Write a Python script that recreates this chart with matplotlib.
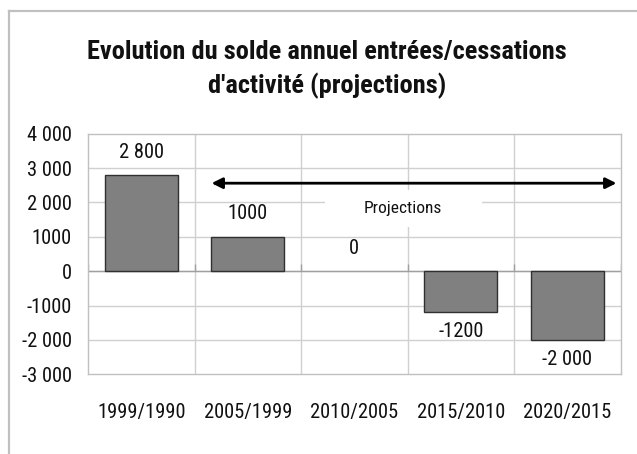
import matplotlib
matplotlib.use("Agg")
import matplotlib.pyplot as plt
from matplotlib.patches import Rectangle
from matplotlib.lines import Line2D

FONT = ['Roboto Condensed', 'PT Sans Narrow', 'Liberation Sans', 'DejaVu Sans']
plt.rcParams['font.family'] = FONT

# ---- data ----
categories = ["1999/1990", "2005/1999", "2010/2005", "2015/2010", "2020/2015"]
values = [2800, 1000, 0, -1200, -2000]
value_labels = ["2 800", "1000", "0", "-1200", "-2 000"]
y_ticks = [-3000, -2000, -1000, 0, 1000, 2000, 3000, 4000]
y_tick_labels = ["-3 000", "-2 000", "-1000", "0", "1000", "2 000", "3 000", "4 000"]
title_lines = ["Evolution du solde annuel entrées/cessations", "d'activité (projections)"]
projection_text = "Projections"

# ---- figure ----
W, H = 637, 454
fig = plt.figure(figsize=(W / 100, H / 100), dpi=100)
fig.patch.set_facecolor("white")
renderer = fig.canvas.get_renderer()


def fit_size(s, target_px, weight="normal"):
    t = fig.text(0, 0, s, fontsize=20, fontweight=weight)
    w = t.get_window_extent(renderer).width
    t.remove()
    return 20 * target_px / w


fs_tick = fit_size("1999/1990", 88)
fs_title = fit_size(title_lines[0], 480, "bold")
fs_proj = fit_size(projection_text, 78)


def fx(px):
    return px / W


def fy(py):
    return 1 - py / H


# outer frame (cropped on right and bottom)
fig.add_artist(Line2D([fx(8.5), fx(8.5)], [fy(11), fy(H + 5)], color="#c0c0c0", linewidth=1.6))
fig.add_artist(Line2D([fx(8.5), fx(W + 5)], [fy(11), fy(11)], color="#c0c0c0", linewidth=1.6))

left, right, top, bottom = 88, 620.7, 133.7, 374.3
ax = fig.add_axes([fx(left), fy(bottom), (right - left) / W, (bottom - top) / H])

x = list(range(len(categories)))
ax.set_xlim(-0.5, len(categories) - 0.5)
ax.set_ylim(-3000, 4000)

# grid
for yt in y_ticks[1:-1]:
    ax.axhline(yt, color="#d0d0d0", linewidth=1.0, zorder=0)
for b in [i + 0.5 for i in x[:-1]]:
    ax.axvline(b, color="#d0d0d0", linewidth=1.0, zorder=0)
for s in ax.spines.values():
    s.set_color("#c0c0c0")
    s.set_linewidth(1.0)

# zero axis with small ticks
ax.axhline(0, color="#a0a0a0", linewidth=1.0, zorder=1)
ax.vlines([i - 0.5 for i in x] + [len(x) - 0.5], 0, 210, color="#a0a0a0", linewidth=1.0, zorder=1)

# bars (a zero bar shows no outline)
edges = ["#303030" if v != 0 else "none" for v in values]
ax.bar(x, values, width=0.685, color="#808080", edgecolor=edges, linewidth=1.0, zorder=3)

# value labels
for xi, v, lab in zip(x, values, value_labels):
    off = 16.5 if v >= 0 else -13.8
    ax.annotate(lab, (xi, v), xytext=(0, off), textcoords="offset points",
                ha="center", va="center", fontsize=fs_tick, color="#111111", zorder=5)

# projections arrow
ax.annotate("", xy=(4.46, 2560), xytext=(0.66, 2560),
            arrowprops=dict(arrowstyle="<|-|>", color="black", linewidth=2.0,
                            mutation_scale=16, shrinkA=0, shrinkB=0), zorder=6)
ax.add_patch(Rectangle((1.725, 1290), 1.475, 1070, facecolor="white", edgecolor="none", zorder=2))
ax.text(2.455, 1810, projection_text, ha="center", va="center", fontsize=fs_proj,
        color="#111111", zorder=4)

# ticks
ax.set_xticks(x)
ax.set_xticklabels(categories, fontsize=fs_tick, color="#111111")
ax.set_yticks(y_ticks)
ax.set_yticklabels(y_tick_labels, fontsize=fs_tick, color="#111111")
ax.tick_params(axis="x", length=0, pad=20.5)
ax.tick_params(axis="y", length=0, pad=11.5)

fig.text(fx(326.5), fy(59.3), title_lines[0], ha="center", va="baseline", fontsize=fs_title,
         fontweight="bold", color="#111111")
fig.text(fx(327), fy(93.3), title_lines[1], ha="center", va="baseline", fontsize=fs_title,
         fontweight="bold", color="#111111")

fig.savefig("out.png", dpi=100, facecolor="white")
